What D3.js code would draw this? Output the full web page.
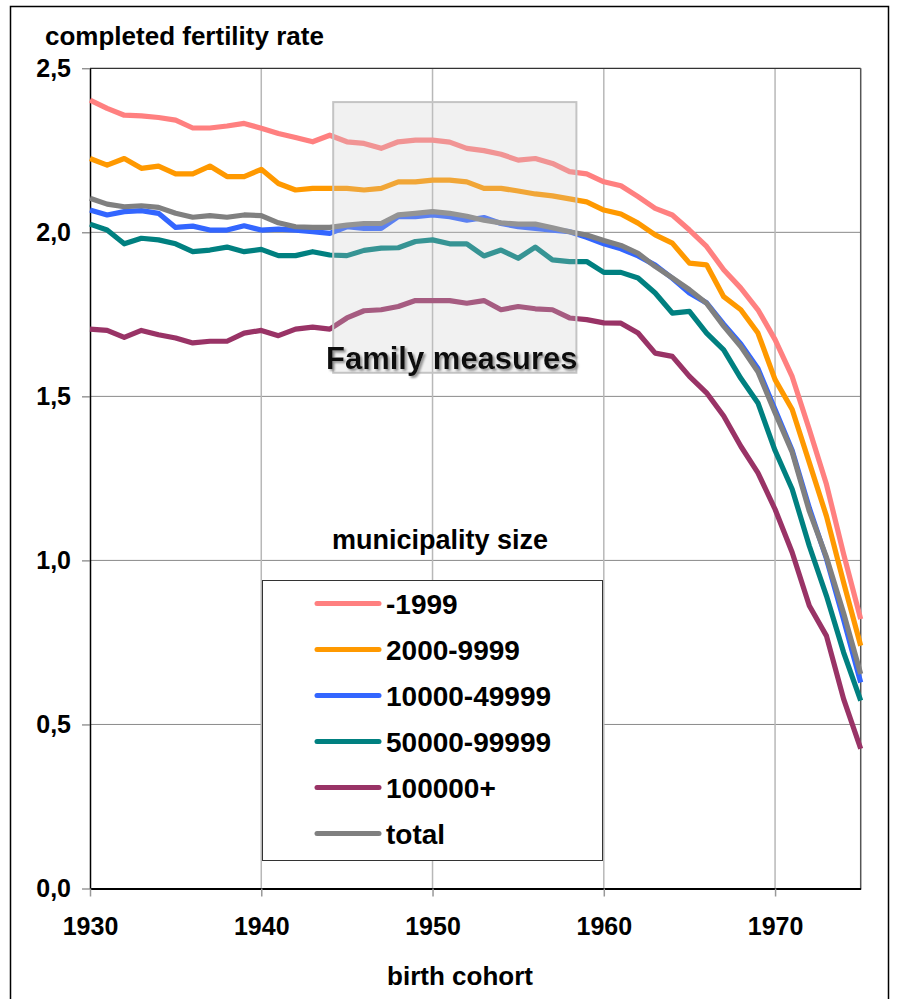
<!DOCTYPE html>
<html>
<head>
<meta charset="utf-8">
<script src="https://cdn.jsdelivr.net/npm/d3@7"></script>
<style>
  body { margin: 0; background: #fff; }
  svg { display: block; font-family: "Liberation Sans", Arial, sans-serif; font-weight: bold; }
</style>
</head>
<body>
<svg width="898" height="999"></svg>
<script>
// birth cohorts, one point per year
const years = [1930, 1931, 1932, 1933, 1934, 1935, 1936, 1937, 1938, 1939,
  1940, 1941, 1942, 1943, 1944, 1945, 1946, 1947, 1948, 1949,
  1950, 1951, 1952, 1953, 1954, 1955, 1956, 1957, 1958, 1959,
  1960, 1961, 1962, 1963, 1964, 1965, 1966, 1967, 1968, 1969,
  1970, 1971, 1972, 1973, 1974, 1975];

// completed fertility rate by municipality size
const size1999 = [2.403, 2.378, 2.357, 2.355, 2.350, 2.342, 2.318, 2.318, 2.324, 2.332,
  2.317, 2.301, 2.289, 2.276, 2.296, 2.276, 2.271, 2.256, 2.276, 2.281,
  2.281, 2.275, 2.256, 2.249, 2.238, 2.220, 2.225, 2.210, 2.185, 2.178,
  2.154, 2.142, 2.109, 2.073, 2.053, 2.007, 1.957, 1.886, 1.830, 1.764,
  1.673, 1.560, 1.399, 1.232, 1.020, 0.821];
const size9999 = [2.225, 2.205, 2.225, 2.195, 2.202, 2.178, 2.178, 2.202, 2.170, 2.170,
  2.192, 2.149, 2.129, 2.134, 2.134, 2.134, 2.129, 2.134, 2.154, 2.154,
  2.159, 2.159, 2.154, 2.134, 2.134, 2.126, 2.117, 2.111, 2.102, 2.093,
  2.068, 2.056, 2.028, 1.992, 1.967, 1.906, 1.901, 1.804, 1.764, 1.693,
  1.551, 1.460, 1.298, 1.135, 0.933, 0.740];
const size49999 = [2.068, 2.053, 2.063, 2.066, 2.058, 2.015, 2.019, 2.007, 2.007, 2.020,
  2.007, 2.010, 2.007, 2.002, 1.997, 2.017, 2.012, 2.012, 2.048, 2.048,
  2.053, 2.048, 2.037, 2.045, 2.027, 2.017, 2.012, 2.007, 2.002, 1.985,
  1.965, 1.950, 1.928, 1.900, 1.860, 1.815, 1.785, 1.720, 1.660, 1.585,
  1.460, 1.335, 1.160, 1.005, 0.820, 0.628];
const size99999 = [2.025, 2.007, 1.965, 1.982, 1.977, 1.965, 1.941, 1.946, 1.955, 1.941,
  1.948, 1.929, 1.929, 1.941, 1.931, 1.929, 1.945, 1.952, 1.953, 1.972,
  1.977, 1.965, 1.965, 1.928, 1.946, 1.921, 1.955, 1.916, 1.911, 1.911,
  1.878, 1.878, 1.861, 1.815, 1.754, 1.759, 1.693, 1.642, 1.555, 1.480,
  1.335, 1.217, 1.044, 0.892, 0.720, 0.573];
const size100000 = [1.705, 1.701, 1.680, 1.701, 1.688, 1.678, 1.663, 1.668, 1.668, 1.693,
  1.701, 1.685, 1.705, 1.711, 1.705, 1.739, 1.761, 1.764, 1.774, 1.792,
  1.792, 1.792, 1.784, 1.792, 1.764, 1.774, 1.767, 1.764, 1.739, 1.734,
  1.724, 1.723, 1.693, 1.632, 1.622, 1.561, 1.511, 1.440, 1.348, 1.267,
  1.156, 1.024, 0.862, 0.770, 0.578, 0.426];
const sizeTotal = [2.104, 2.086, 2.078, 2.081, 2.076, 2.058, 2.046, 2.051, 2.046, 2.053,
  2.051, 2.029, 2.017, 2.015, 2.015, 2.022, 2.027, 2.027, 2.053, 2.058,
  2.063, 2.058, 2.049, 2.037, 2.029, 2.025, 2.025, 2.014, 2.002, 1.992,
  1.975, 1.960, 1.936, 1.896, 1.861, 1.825, 1.784, 1.714, 1.652, 1.575,
  1.450, 1.330, 1.150, 1.010, 0.840, 0.654];

const seriesNames = ["-1999", "2000-9999", "10000-49999", "50000-99999", "100000+", "total"];
const seriesValues = [size1999, size9999, size49999, size99999, size100000, sizeTotal];
const seriesColors = ["#ff8080", "#ff9900", "#3366ff", "#008080", "#993366", "#808080"];

const yTicks = [0, 0.5, 1, 1.5, 2, 2.5];
const xTicks = [1930, 1940, 1950, 1960, 1970];

// the grey "Family measures" window (cohorts and rate levels it covers)
const measuresCohorts = [1944.2, 1958.4];
const measuresLevels = [1.572, 2.397];

const svg = d3.select("svg");

// soft grey shadow for the box label
const shadow = svg.append("defs").append("filter")
  .attr("id", "shadow")
  .attr("x", "-10%").attr("y", "-30%")
  .attr("width", "130%").attr("height", "170%");
shadow.append("feDropShadow")
  .attr("dx", 2).attr("dy", 2)
  .attr("stdDeviation", 0.8)
  .attr("flood-color", "#888")
  .attr("flood-opacity", 0.9);

const x = d3.scaleLinear().domain([1930, 1975]).range([90, 860.7]);
const y = d3.scaleLinear().domain([0, 2.5]).range([888.5, 68.3]);

// page frame
svg.append("rect")
  .attr("x", 10.5).attr("y", 6.5)
  .attr("width", 878).attr("height", 1010)
  .attr("fill", "none").attr("stroke", "#000").attr("stroke-width", 1.5);

// grid
svg.append("g").selectAll("line")
  .data(yTicks.filter(v => v > 0 && v < 2.5))
  .join("line")
  .attr("x1", x(1930)).attr("x2", x(1975))
  .attr("y1", d => y(d)).attr("y2", d => y(d))
  .attr("stroke", "#8a8a8a").attr("stroke-width", 1);

svg.append("g").selectAll("line")
  .data(xTicks.filter(v => v > 1930))
  .join("line")
  .attr("x1", d => x(d)).attr("x2", d => x(d))
  .attr("y1", y(0)).attr("y2", y(2.5))
  .attr("stroke", "#b8b8b8").attr("stroke-width", 1.5);

// top and right edge of plot
svg.append("line")
  .attr("x1", x(1930)).attr("x2", x(1975))
  .attr("y1", y(2.5)).attr("y2", y(2.5))
  .attr("stroke", "#333").attr("stroke-width", 1.2);
svg.append("line")
  .attr("x1", x(1975)).attr("x2", x(1975))
  .attr("y1", y(2.5)).attr("y2", y(0))
  .attr("stroke", "#555").attr("stroke-width", 1.5);

// axes
const yAxis = d3.axisLeft(y)
  .tickValues(yTicks)
  .tickSize(8)
  .tickSizeOuter(0)
  .tickPadding(11)
  .tickFormat(d => d3.format(".1f")(d).replace(".", ","));

svg.append("g")
  .attr("transform", `translate(${x(1930)},0)`)
  .call(yAxis)
  .call(g => g.attr("font-family", null).attr("font-size", 25))
  .call(g => g.select(".domain").attr("stroke", "#000").attr("stroke-width", 1.5))
  .call(g => g.selectAll(".tick line").attr("stroke", "#666"))
  .call(g => g.selectAll(".tick text").attr("fill", "#000"));

const xAxis = d3.axisBottom(x)
  .tickValues(xTicks)
  .tickSize(8)
  .tickSizeOuter(0)
  .tickPadding(21)
  .tickFormat(d3.format("d"));

svg.append("g")
  .attr("transform", `translate(0,${y(0)})`)
  .call(xAxis)
  .call(g => g.attr("font-family", null).attr("font-size", 25))
  .call(g => g.select(".domain").attr("stroke", "#000").attr("stroke-width", 2))
  .call(g => g.selectAll(".tick line").attr("stroke", "#999").attr("stroke-width", 1.5))
  .call(g => g.selectAll(".tick text").attr("fill", "#000"));

// series lines (total last so it sits on top)
const line = d3.line()
  .x((d, i) => x(years[i]))
  .y(d => y(d));

svg.append("g").selectAll("path")
  .data(seriesValues)
  .join("path")
  .attr("d", line)
  .attr("fill", "none")
  .attr("stroke", (d, i) => seriesColors[i])
  .attr("stroke-width", 5.2)
  .attr("stroke-linejoin", "round");

// family measures box, laid over the lines so they fade a bit
svg.append("rect")
  .attr("x", x(measuresCohorts[0]))
  .attr("y", y(measuresLevels[1]))
  .attr("width", x(measuresCohorts[1]) - x(measuresCohorts[0]))
  .attr("height", y(measuresLevels[0]) - y(measuresLevels[1]))
  .attr("fill", "#cccccc").attr("fill-opacity", 0.27)
  .attr("stroke", "#c4c4c4").attr("stroke-width", 2);

svg.append("text")
  .attr("x", (x(measuresCohorts[0]) + x(measuresCohorts[1])) / 2 - 3)
  .attr("y", y(measuresLevels[0]) - 4)
  .attr("text-anchor", "middle").attr("font-size", 31)
  .attr("fill", "#111")
  .attr("filter", "url(#shadow)")
  .text("Family measures");

// axis titles
svg.append("text")
  .attr("x", 45).attr("y", 45)
  .attr("font-size", 26)
  .text("completed fertility rate");
svg.append("text")
  .attr("x", 460).attr("y", 985)
  .attr("text-anchor", "middle").attr("font-size", 26)
  .text("birth cohort");

// legend
svg.append("text")
  .attr("x", 440).attr("y", 549)
  .attr("text-anchor", "middle").attr("font-size", 27)
  .text("municipality size");

svg.append("rect")
  .attr("x", 262.5).attr("y", 580.5)
  .attr("width", 340).attr("height", 280)
  .attr("fill", "#fff").attr("stroke", "#333").attr("stroke-width", 1);

const rows = svg.append("g").selectAll("g")
  .data(seriesNames)
  .join("g")
  .attr("transform", (d, i) => `translate(0,${603.5 + i * 46})`);

rows.append("line")
  .attr("x1", 317).attr("x2", 379)
  .attr("stroke", (d, i) => seriesColors[i])
  .attr("stroke-width", 5)
  .attr("stroke-linecap", "round");

rows.append("text")
  .attr("x", 386).attr("y", 10)
  .attr("font-size", 28)
  .text(d => d);
</script>
</body>
</html>
